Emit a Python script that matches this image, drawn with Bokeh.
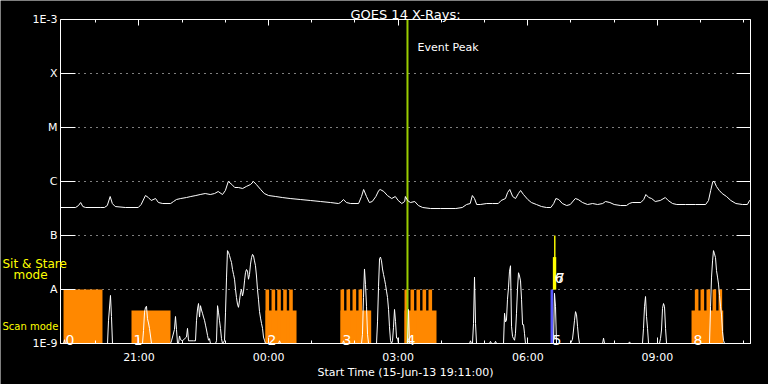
import numpy as np
from bokeh.plotting import figure
from bokeh.models import FixedTicker, LinearAxis, LogAxis, Range1d, LinearScale, Label
from bokeh.embed import file_html
from bokeh.resources import INLINE
from bokeh.core.properties import value

# ---------------- data ----------------
START_CLOCK = "19:11"          # Start Time (15-Jun-13 19:11:00)
END_MIN = 958.3                # minutes after start shown on the axis
EVENT_PEAK_MIN = 481.9         # 03:13

xtick_labels = ["21:00", "00:00", "03:00", "06:00", "09:00"]
decades = [1e-9, 1e-8, 1e-7, 1e-6, 1e-5, 1e-4, 1e-3]
decade_labels = ["1E-9", "A", "B", "C", "M", "X", "1E-3"]

# GOES 14 X-ray flux (W/m^2), time in minutes after start
goes_t = [0, 21, 25, 28, 31, 35, 56, 61, 65, 69, 72, 76, 90, 108, 112, 118, 122, 126, 132, 136,
          142, 153, 157, 161, 167, 175, 181, 188, 194, 201, 208, 214, 219, 225, 229, 233, 238, 242,
          247, 253, 258, 264, 268, 272, 278, 283, 289, 299, 308, 319, 333, 347, 361, 375, 386, 389,
          393, 397, 403, 414, 418, 421, 425, 429, 433, 438, 442, 444, 449, 454, 460, 465, 469, 474,
          478, 479, 482, 486, 492, 497, 503, 514, 528, 549, 558, 564, 569, 572, 575, 578, 583, 592,
          600, 608, 612, 618, 621, 624, 628, 632, 636, 639, 643, 649, 654, 661, 668, 675, 681, 685,
          688, 692, 697, 703, 708, 715, 719, 725, 732, 739, 746, 753, 757, 763, 769, 778, 786, 790,
          794, 806, 810, 813, 817, 821, 826, 833, 840, 844, 850, 856, 868, 882, 896, 900, 903, 906,
          908, 911, 915, 919, 925, 931, 938, 947, 954, 957, 958]
goes_flux = [3.30e-7, 3.30e-7, 3.59e-7, 4.08e-7, 3.44e-7, 3.30e-7, 3.30e-7, 3.30e-7, 3.59e-7, 5.27e-7,
             3.91e-7, 3.44e-7, 3.30e-7, 3.30e-7, 3.75e-7, 5.50e-7, 5.05e-7, 4.45e-7, 4.84e-7, 4.08e-7,
             3.91e-7, 3.91e-7, 4.26e-7, 4.64e-7, 4.84e-7, 5.05e-7, 5.27e-7, 5.50e-7, 5.74e-7, 5.99e-7,
             5.74e-7, 5.99e-7, 6.53e-7, 5.74e-7, 6.81e-7, 1.00e-6, 8.80e-7, 7.74e-7, 7.74e-7, 7.42e-7,
             8.08e-7, 8.80e-7, 1.00e-6, 8.80e-7, 7.11e-7, 5.99e-7, 5.50e-7, 5.27e-7, 5.05e-7, 4.84e-7,
             4.64e-7, 4.45e-7, 4.26e-7, 4.08e-7, 3.91e-7, 4.08e-7, 4.64e-7, 4.08e-7, 3.91e-7, 3.91e-7,
             5.27e-7, 7.11e-7, 5.27e-7, 4.08e-7, 4.26e-7, 5.27e-7, 6.81e-7, 7.11e-7, 6.53e-7, 5.50e-7,
             4.84e-7, 5.27e-7, 4.45e-7, 3.91e-7, 4.26e-7, 5.27e-7, 4.45e-7, 4.08e-7, 4.26e-7, 3.59e-7,
             3.30e-7, 3.16e-7, 3.16e-7, 3.16e-7, 3.30e-7, 3.75e-7, 3.91e-7, 5.50e-7, 4.84e-7, 3.75e-7,
             3.75e-7, 3.91e-7, 3.91e-7, 3.91e-7, 4.45e-7, 4.84e-7, 6.26e-7, 7.11e-7, 5.27e-7, 4.84e-7,
             5.99e-7, 6.81e-7, 5.74e-7, 4.64e-7, 4.08e-7, 3.75e-7, 3.44e-7, 3.30e-7, 3.30e-7, 3.91e-7,
             4.84e-7, 4.64e-7, 3.91e-7, 3.59e-7, 3.75e-7, 4.84e-7, 4.64e-7, 4.08e-7, 3.75e-7, 3.91e-7,
             3.75e-7, 3.91e-7, 4.26e-7, 4.08e-7, 3.75e-7, 3.59e-7, 3.59e-7, 3.91e-7, 4.08e-7, 4.08e-7,
             4.64e-7, 5.74e-7, 5.05e-7, 4.84e-7, 4.26e-7, 4.45e-7, 5.05e-7, 4.45e-7, 3.91e-7, 3.75e-7,
             3.75e-7, 3.75e-7, 3.75e-7, 4.45e-7, 6.81e-7, 1.00e-6, 1.00e-6, 8.08e-7, 6.81e-7, 5.99e-7,
             5.27e-7, 4.45e-7, 3.91e-7, 3.75e-7, 3.75e-7, 4.45e-7, 4.45e-7]

# lower white trace (relative units; 1 = level of the "A" line)
aux_t = [0, 4.2, 5.6, 6.9, 65.3, 66.7, 69.4, 70.8, 72.2,
         113.9, 115.3, 116.7, 118.1, 119.4, 120.8, 122.2, 123.6, 126.4,
         152.8, 154.2, 158.3, 159.7, 161.1, 162.5, 163.9, 165.3, 166.7, 169.4, 175, 176.4, 177.8,
         184.7, 187.5, 188.9, 190.3, 191.7, 193.1, 194.4, 195.8, 197.2, 198.6, 200, 201.4, 202.8,
         204.2, 205.6, 206.9, 208.3,
         215.3, 216.7, 218.1, 219.4, 220.8, 222.2, 223.6, 225, 227.8, 229.2, 230.6, 231.9, 233.3,
         234.7, 236.1, 237.5, 238.9, 240.3, 241.7, 243.1, 244.4, 245.8, 247.2, 248.6, 250, 251.4,
         252.8, 254.2, 255.6, 256.9, 258.3, 259.7, 261.1, 262.5, 263.9, 265.3, 266.7, 268.1, 269.4,
         270.8, 272.2, 273.6, 275, 276.4, 277.8, 279.2, 280.6, 281.9, 283.3, 284.7,
         302.8, 304.2, 305.6, 391.7, 393.1, 394.4,
         418.1, 419.4, 420.8, 422.2, 423.6, 425, 426.4, 427.8,
         438.9, 440.3, 441.7, 443.1, 444.4, 445.8, 447.2, 448.6, 450, 451.4, 452.8, 454.2, 455.6,
         456.9, 458.3, 459.7, 461.1, 462.5, 463.9, 465.3, 466.7, 468.1, 469.4,
         481.9, 483.3, 484.7,
         568.1, 569.4, 570.8, 572.2, 573.6, 575, 576.4, 577.8,
         595.8, 597.2, 598.6, 602.8, 604.2, 605.6,
         615.3, 616.7, 618.1, 619.4, 620.8, 622.2, 623.6, 625, 626.4, 627.8, 629.2, 630.6, 631.9,
         633.3, 634.7, 636.1, 637.5, 638.9, 640.3, 641.7, 643.1, 644.4, 645.8,
         684.7, 686.1, 687.5, 688.9,
         708.3, 711.1, 712.5, 713.9, 715.3, 716.7, 718.1, 719.4, 720.8,
         752.8, 754.2, 755.6, 788.9, 790.3, 791.7,
         808.3, 809.7, 811.1, 812.5, 813.9, 815.3, 816.7,
         831.9, 833.3, 834.7, 836.1, 837.5, 838.9, 840.3, 841.7,
         901.4, 902.8, 904.2, 905.6, 906.9, 908.3, 909.7, 911.1, 912.5, 913.9, 915.3, 916.7, 918.1,
         919.4, 920.8, 922.2, 958.3]
aux_v = [0, 0, 0.07, 0, 0, 0.43, 0.89, 0.5, 0,
         0, 0.24, 0.58, 0.67, 0.69, 0.46, 0.38, 0.28, 0,
         0, 0.05, 0.26, 0.5, 0.26, 0, 0, 0.14, 0.07, 0.05, 0.12, 0.28, 0.05,
         0.05, 0.05, 0.43, 0.64, 0.74, 0.49, 0.70, 0.62, 0.56, 0.49, 0.43, 0.34, 0.25,
         0.15, 0.06, 0.09, 0,
         0, 0.05, 0.70, 0.58, 0.43, 0.28, 0.09, 0, 0.05, 0.58, 1.23, 1.72, 1.69,
         1.63, 1.56, 1.50, 1.37, 1.28, 1.19, 1.00, 0.85, 0.73, 0.67, 0.79, 0.94, 1.00,
         0.88, 0.97, 1.16, 1.31, 1.37, 1.34, 1.19, 1.28, 1.47, 1.59, 1.65, 1.62, 1.53,
         1.44, 1.25, 1.00, 0.81, 0.59, 0.47, 0.37, 0.28, 0.12, 0.06, 0,
         0, 0.05, 0, 0, 0.05, 0,
         0, 0.17, 0.85, 1.38, 1.09, 0.69, 0.17, 0,
         0, 0.40, 1.06, 1.57, 1.60, 1.53, 1.38, 1.28, 1.19, 1.09, 0.97, 0.85, 0.63,
         0.31, 0.06, 0, 0.05, 0.3, 0.63, 0.41, 0.10, 0.1, 0,
         0, 0.63, 0,
         0, 0.05, 0, 0, 0.37, 1.23, 0.37, 0,
         0, 0.04, 0, 0, 0.04, 0,
         0, 0.56, 0.40, 0.43, 0.82, 1.03, 1.34, 1.44, 0.32, 0.13, 0.09, 0.06, 0.19,
         0.56, 1.00, 1.31, 1.25, 1.16, 0.82, 0.35, 0.35, 0.19, 0,
         0, 0.93, 0.68, 0,
         0, 0.08, 0.25, 0.43, 0.59, 0.53, 0.31, 0.12, 0,
         0, 0.1, 0, 0, 0.03, 0,
         0, 0.28, 0.68, 0.87, 0.50, 0.28, 0,
         0, 0.09, 0.25, 0.65, 0.74, 0.68, 0.28, 0,
         0, 0.68, 1.23, 1.53, 1.72, 1.66, 1.59, 1.35, 1.23, 1.10, 0.89, 0.68, 0.53,
         0.22, 0.06, 0, 0]

# observations (minutes after start); levels in the same relative units
obs_id = ["0", "1", "2", "3", "4", "5", "6", "7", "8"]
obs_start = [4.2, 98.6, 284.7, 388.9, 477.8, 680.6, 683.8, 685.5, 876.4]
obs_end = [58.3, 152.8, 327.8, 431.5, 522.2, 684.3, 688.5, 687.5, 920.4]
obs_bottom = [0, 0, 0, 0, 0, 0, 1, 1, 0]
obs_top = [1.0, 0.61, 0.61, 0.61, 0.61, 1.0, 1.6, 2.0, 0.61]
obs_color = ["#ff8800", "#ff8800", "#ff8800", "#ff8800", "#ff8800", "#5a5aff",
             "#ffff00", "#ffff00", "#ff8800"]
obs_label_y = [0.07, 0.07, 0.07, 0.07, 0.07, 0.07, 1.22, 1.22, 0.07]

# raster steps (minutes after start)
step_start = [284.7, 293.1, 301.0, 309.3, 317.6,
              388.9, 397.2, 405.6, 413.9,
              477.8, 486.1, 494.4, 502.8, 511.1,
              881.0, 888.9, 897.2, 905.6, 913.9]
step_len = 5.0
step_top = 1.0

# ---------------- layout (pixels) ----------------
W, H = 768, 384
PL, PR, PT, PB = 60, 750, 19, 343      # plot box inside the canvas

def clock_to_min(s):
    h, m = map(int, s.split(":"))
    sh, sm = map(int, START_CLOCK.split(":"))
    return ((h * 60 + m) - (sh * 60 + sm)) % 1440

major_x = [clock_to_min(s) for s in xtick_labels]
minor_x = list(range(clock_to_min("20:00"), int(END_MIN) + 1, 60))

# extend the ranges so that the whole canvas is the frame and the data box sits at PL..PR, PT..PB
kx = (PR - PL) / END_MIN
XMIN, XMAX = -PL / kx, END_MIN + (W - PR) / kx
dec_px = (PB - PT) / 6.0
YMIN, YMAX = decades[0] * 10 ** (-(H - PB) / dec_px), decades[-1] * 10 ** (PT / dec_px)
LMIN, LMAX = -(H - PB) / dec_px, 6 + PT / dec_px

FONT = "DejaVu Sans"
WHITE = "#ffffff"
YELLOW = "#ffff00"

p = figure(width=W, height=H, output_backend="svg", toolbar_location=None,
           y_axis_type="log", x_range=Range1d(XMIN, XMAX), y_range=Range1d(YMIN, YMAX),
           background_fill_color="black", border_fill_color="black",
           min_border_left=0, min_border_right=0, min_border_top=0, min_border_bottom=0)
p.outline_line_color = None
p.title.visible = False
p.extra_y_ranges = {"lin": Range1d(LMIN, LMAX)}
p.extra_y_scales = {"lin": LinearScale()}

xticker = FixedTicker(ticks=major_x, minor_ticks=minor_x)
yticker = FixedTicker(ticks=decades)

# bottom axis
xa = p.xaxis[0]
xa.fixed_location = decades[0]
xa.bounds = (0, END_MIN)
xa.ticker = xticker
xa.major_label_overrides = {t: l for t, l in zip(major_x, xtick_labels)}
xa.axis_line_color = WHITE
xa.major_tick_line_color = WHITE
xa.minor_tick_line_color = WHITE
xa.major_tick_in = 6
xa.major_tick_out = 0
xa.minor_tick_in = 3
xa.minor_tick_out = 0
xa.major_label_text_color = WHITE
xa.major_label_text_font = FONT
xa.major_label_text_font_size = "11px"
xa.major_label_standoff = 7

# top axis
top = LinearAxis(fixed_location=decades[-1], bounds=(0, END_MIN), ticker=xticker,
                 axis_line_color=WHITE, major_tick_line_color=WHITE,
                 minor_tick_line_color=WHITE, major_tick_in=6, major_tick_out=0,
                 minor_tick_in=3, minor_tick_out=0, major_label_standoff=0,
                 major_label_overrides={t: "" for t in major_x}, major_label_text_font_size="1px")
p.add_layout(top, "above")

# left axis
ya = p.yaxis[0]
ya.fixed_location = 0
ya.bounds = (decades[0], decades[-1])
ya.ticker = yticker
ya.major_label_overrides = {d: l for d, l in zip(decades, decade_labels)}
ya.axis_line_color = WHITE
ya.major_tick_line_color = WHITE
ya.minor_tick_line_color = None
ya.major_tick_in = 15
ya.major_tick_out = 0
ya.major_label_text_color = WHITE
ya.major_label_text_font = FONT
ya.major_label_text_font_size = "11px"
ya.major_label_standoff = 3

# right axis
right = LogAxis(fixed_location=END_MIN, bounds=(decades[0], decades[-1]), ticker=yticker,
                axis_line_color=WHITE, major_tick_line_color=WHITE,
                minor_tick_line_color=None, major_tick_in=14, major_tick_out=0,
                major_label_standoff=0, major_label_overrides={d: "" for d in decades},
                major_label_text_font_size="1px")
p.add_layout(right, "right")

# dotted level lines (grid)
p.xgrid.visible = False
g = p.ygrid[0]
if "cross_bounds" in g.properties():
    g.ticker = FixedTicker(ticks=decades[1:-1])
    g.cross_bounds = (0, END_MIN)
    g.grid_line_color = WHITE
    g.grid_line_dash = "1 5"
    g.grid_line_width = 1
else:
    g.visible = False
    p.segment(x0=0, x1=END_MIN, y0=decades[1:-1], y1=decades[1:-1], line_color=WHITE,
              line_dash="1 5", line_width=1)

# observation blocks
p.quad(left=obs_start, right=obs_end, bottom=obs_bottom, top=obs_top, color=obs_color,
       line_color=None, y_range_name="lin")
p.quad(left=step_start, right=[s + step_len for s in step_start], bottom=0, top=step_top,
       color="#ff8800", line_color=None, y_range_name="lin")

# event peak
p.segment(x0=[EVENT_PEAK_MIN], x1=[EVENT_PEAK_MIN], y0=[decades[0]], y1=[decades[-1]],
          line_color="#9acd00", line_width=2)

# traces
p.line(aux_t, aux_v, line_color=WHITE, line_width=1, y_range_name="lin")
p.line(goes_t, goes_flux, line_color=WHITE, line_width=1)

# observation numbers
p.text(x=obs_start, y=obs_label_y, text=obs_id, y_range_name="lin", text_color=WHITE,
       text_font=value(FONT), text_font_size="14px", x_offset=2, text_baseline="alphabetic")

def add_label(text, x, y, color=WHITE, size="11px", align="left", dx=0, dy=0, yr="default"):
    p.add_layout(Label(x=x, y=y, x_offset=dx, y_offset=dy, text=text, text_align=align,
                       text_baseline="alphabetic", text_color=color, text_font=FONT,
                       text_font_size=size, y_range_name=yr))

add_label("GOES 14 X-Rays:", END_MIN / 2, decades[-1], size="13px", align="center", dy=5)
add_label("Start Time (15-Jun-13 19:11:00)", END_MIN / 2, decades[0], align="center", dy=-29)
add_label("Event Peak", EVENT_PEAK_MIN, decades[-1], dx=10, dy=-28)
add_label("Sit & Stare", XMIN, 1.48, color=YELLOW, size="12px", dx=2, yr="lin")
add_label("mode", XMIN, 1.27, color=YELLOW, size="12px", dx=13, yr="lin")
add_label("Scan mode", XMIN, 0.315, color=YELLOW, size="10px", dx=2, yr="lin")

html = file_html(p, INLINE)
html = html.replace("<body>", '<body style="background-color:#000000">', 1)
open("out.html", "w").write(html)
